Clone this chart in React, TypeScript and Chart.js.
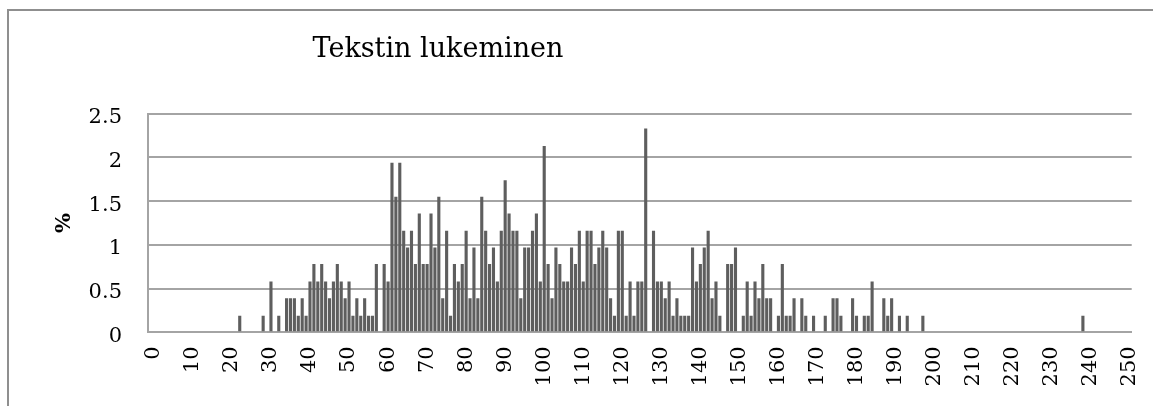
import { useEffect, useRef } from 'react';
import { Chart, registerables } from 'chart.js';

Chart.register(...registerables);

const chartTitle = 'Tekstin lukeminen';
const yAxisTitle = '%';

// Score bins (x) that have a non-zero share, and their share in percent (y)
const bins: number[] = [
  22, 28, 30, 32, 34, 35, 36, 37, 38, 39,
  40, 41, 42, 43, 44, 45, 46, 47, 48, 49,
  50, 51, 52, 53, 54, 55, 56, 57, 59,
  60, 61, 62, 63, 64, 65, 66, 67, 68, 69,
  70, 71, 72, 73, 74, 75, 76, 77, 78, 79,
  80, 81, 82, 83, 84, 85, 86, 87, 88, 89,
  90, 91, 92, 93, 94, 95, 96, 97, 98, 99,
  100, 101, 102, 103, 104, 105, 106, 107, 108, 109,
  110, 111, 112, 113, 114, 115, 116, 117, 118, 119,
  120, 121, 122, 123, 124, 125, 126, 128, 129,
  130, 131, 132, 133, 134, 135, 136, 137, 138, 139,
  140, 141, 142, 143, 144, 145, 147, 148, 149,
  151, 152, 153, 154, 155, 156, 157, 158,
  160, 161, 162, 163, 164, 166, 167, 169,
  172, 174, 175, 176, 179,
  180, 182, 183, 184, 187, 188, 189,
  191, 193, 197,
  238,
];

const percents: number[] = [
  0.19, 0.19, 0.58, 0.19, 0.39, 0.39, 0.39, 0.19, 0.39, 0.19,
  0.58, 0.78, 0.58, 0.78, 0.58, 0.39, 0.58, 0.78, 0.58, 0.39,
  0.58, 0.19, 0.39, 0.19, 0.39, 0.19, 0.19, 0.78, 0.78,
  0.58, 1.94, 1.55, 1.94, 1.16, 0.97, 1.16, 0.78, 1.36, 0.78,
  0.78, 1.36, 0.97, 1.55, 0.39, 1.16, 0.19, 0.78, 0.58, 0.78,
  1.16, 0.39, 0.97, 0.39, 1.55, 1.16, 0.78, 0.97, 0.58, 1.16,
  1.74, 1.36, 1.16, 1.16, 0.39, 0.97, 0.97, 1.16, 1.36, 0.58,
  2.13, 0.78, 0.39, 0.97, 0.78, 0.58, 0.58, 0.97, 0.78, 1.16,
  0.58, 1.16, 1.16, 0.78, 0.97, 1.16, 0.97, 0.39, 0.19, 1.16,
  1.16, 0.19, 0.58, 0.19, 0.58, 0.58, 2.33, 1.16, 0.58,
  0.58, 0.39, 0.58, 0.19, 0.39, 0.19, 0.19, 0.19, 0.97, 0.58,
  0.78, 0.97, 1.16, 0.39, 0.58, 0.19, 0.78, 0.78, 0.97,
  0.19, 0.58, 0.19, 0.58, 0.39, 0.78, 0.39, 0.39,
  0.19, 0.78, 0.19, 0.19, 0.39, 0.39, 0.19, 0.19,
  0.19, 0.39, 0.39, 0.19, 0.39,
  0.19, 0.19, 0.19, 0.58, 0.39, 0.19, 0.39,
  0.19, 0.19, 0.19,
  0.19,
];

const xTickStart = 0;
const xTickEnd = 250;
const xTickStep = 10;
const yTickMax = 2.5;
const yTickStep = 0.5;

const FONT = '"DejaVu Serif", "Liberation Serif", serif';
const GRID = '#a4a4a4';

export default function App() {
  const ref = useRef<HTMLCanvasElement | null>(null);

  useEffect(() => {
    const canvas = ref.current;
    if (!canvas) return;
    const chart = new Chart(canvas, {
      type: 'bar',
      data: {
        datasets: [
          {
            data: bins.map((b, i) => ({ x: b, y: percents[i] })),
            backgroundColor: '#5e5e5e',
            borderWidth: 0,
            barPercentage: 0.8,
            categoryPercentage: 1,
          },
        ],
      },
      options: {
        responsive: false,
        animation: false,
        events: [],
        layout: { padding: { top: 113.7, right: 21.3, left: 0, bottom: 0 } },
        plugins: {
          legend: { display: false },
          title: { display: false },
          tooltip: { enabled: false },
        },
        scales: {
          x: {
            type: 'linear',
            min: xTickStart - 1.5,
            max: xTickEnd + 0.5,
            offset: false,
            grid: { display: false, offset: false, drawTicks: false },
            border: { display: true, color: GRID, width: 2 },
            ticks: {
              stepSize: xTickStep,
              includeBounds: false,
              autoSkip: false,
              maxRotation: 90,
              minRotation: 90,
              padding: 14,
              color: '#000',
              font: { family: FONT, size: 21 },
              callback: (v: any) => String(v),
            },
            afterFit: (s: any) => {
              s.height = 73.7;
              s.paddingLeft = 0;
              s.paddingRight = 0;
            },
          },
          y: {
            min: 0,
            max: yTickMax,
            grid: { color: GRID, lineWidth: 2, drawTicks: false },
            border: { display: true, color: GRID, width: 2 },
            ticks: {
              stepSize: yTickStep,
              padding: 26,
              labelOffset: 4,
              color: '#000',
              font: { family: FONT, size: 21 },
              callback: (v: any) => String(v),
            },
            title: {
              display: true,
              text: yAxisTitle,
              color: '#000',
              font: { family: FONT, size: 21, weight: 'bold' },
              padding: { top: 52, bottom: 0 },
            },
            afterFit: (s: any) => {
              s.width = 148;
              s.paddingTop = 0;
              s.paddingBottom = 0;
            },
          },
        },
      },
    } as any);
    return () => chart.destroy();
  }, []);

  return (
    <div
      style={{
        position: 'fixed',
        left: 0,
        top: 0,
        width: 1153,
        height: 406,
        overflow: 'hidden',
        background: '#fff',
      }}
    >
      <div
        style={{
          position: 'absolute',
          left: 7,
          top: 9,
          width: 3000,
          height: 3000,
          borderLeft: '2px solid #8f8f8f',
          borderTop: '2px solid #8f8f8f',
        }}
      />
      <canvas
        ref={ref}
        width={1153}
        height={406}
        style={{ position: 'absolute', left: 0, top: 0, width: 1153, height: 406, display: 'block' }}
      />
      <div
        style={{
          position: 'absolute',
          left: 312.5,
          top: 33.9,
          font: `27px ${FONT}`,
          lineHeight: '27px',
          whiteSpace: 'nowrap',
          color: '#000',
        }}
      >
        {chartTitle}
      </div>
    </div>
  );
}
